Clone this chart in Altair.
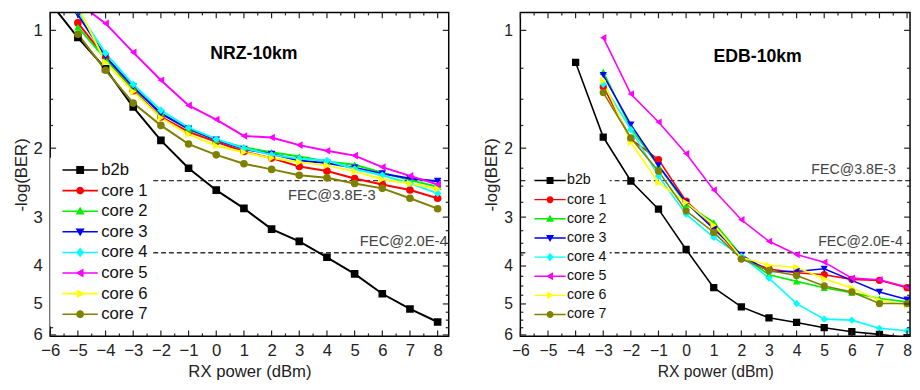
import altair as alt
import pandas as pd

# ---------------- data ----------------
x_values = [-6, -5, -4, -3, -2, -1, 0, 1, 2, 3, 4, 5, 6, 7, 8]
series_names = ["b2b", "core 1", "core 2", "core 3", "core 4", "core 5", "core 6", "core 7"]

# NRZ-10km  (-log(BER) per RX power)
nrz_b2b   = [0.85, 1.043, 1.253, 1.57, 1.91, 2.25, 2.56, 2.85, 3.22, 3.46, 3.80, 4.19, 4.71, 5.15, 5.56]
nrz_core1 = [None, 0.957, 1.176, 1.426, 1.664, 1.818, 1.926, 2.04, 2.12, 2.227, 2.288, 2.391, 2.476, 2.558, 2.685]
nrz_core2 = [None, 0.981, 1.183, 1.407, 1.626, 1.79, 1.905, 1.99, 2.049, 2.101, 2.163, 2.205, 2.309, 2.414, 2.509]
nrz_core3 = [None, 0.912, 1.167, 1.393, 1.632, 1.784, 1.905, 2.01, 2.069, 2.15, 2.184, 2.243, 2.323, 2.391, 2.428]
nrz_core4 = [None, 0.894, 1.145, 1.375, 1.601, 1.773, 1.897, 2.0, 2.08, 2.13, 2.15, 2.26, 2.346, 2.461, 2.608]
nrz_core5 = [None, 0.85, 0.96, 1.138, 1.341, 1.555, 1.69, 1.861, 1.878, 1.964, 2.03, 2.089, 2.235, 2.354, 2.476]
nrz_core6 = [None, 0.87, 1.206, 1.434, 1.673, 1.843, 1.971, 2.049, 2.12, 2.171, 2.213, 2.292, 2.40, 2.461, 2.543]
nrz_core7 = [None, 1.023, 1.265, 1.534, 1.749, 1.952, 2.08, 2.192, 2.266, 2.346, 2.381, 2.461, 2.533, 2.685, 2.855]

# EDB-10km
edb_b2b   = [None, None, 1.208, 1.873, 2.426, 2.863, 3.63, 4.545, 5.087, 5.425, 5.575, 5.751, 5.888, 5.979, 6.1]
edb_core1 = [None, None, None, 1.393, 1.895, 2.138, 2.732, 3.167, 3.835, 4.07, 4.162, 4.21, 4.327, 4.352, 4.545]
edb_core2 = [None, None, None, 1.276, 1.777, 2.223, 2.781, 3.095, 3.761, 4.21, 4.378, 4.545, 4.678, 4.845, 4.94]
edb_core3 = [None, None, None, 1.301, 1.742, 2.214, 2.754, 3.218, 3.746, 4.13, 4.13, 4.066, 4.352, 4.66, 4.873]
edb_core4 = [None, None, None, 1.374, 1.794, 2.357, 2.948, 3.379, 3.776, 4.295, 4.989, 5.467, 5.5, 5.77, 5.853]
edb_core5 = [None, None, None, 1.044, 1.454, 1.715, 2.064, 2.557, 3.047, 3.459, 3.739, 3.91, 4.295, 4.336, 4.526]
edb_core6 = [None, None, None, 1.345, 1.932, 2.45, 2.754, 3.145, 3.798, 3.988, 4.027, 4.311, 4.552, 4.893, 5.037]
edb_core7 = [None, None, None, 1.442, 1.883, 2.289, 2.891, 3.282, 3.835, 4.106, 4.227, 4.499, 4.66, 4.989, 4.989]

nrz_series = [nrz_b2b, nrz_core1, nrz_core2, nrz_core3, nrz_core4, nrz_core5, nrz_core6, nrz_core7]
edb_series = [edb_b2b, edb_core1, edb_core2, edb_core3, edb_core4, edb_core5, edb_core6, edb_core7]

fec_labels = ["FEC@3.8E-3", "FEC@2.0E-4"]
fec_levels = [2.42, 3.70]

x_major_ticks = [-6, -5, -4, -3, -2, -1, 0, 1, 2, 3, 4, 5, 6, 7, 8]
x_minor_ticks = [-5.5, -4.5, -3.5, -2.5, -1.5, -0.5, 0.5, 1.5, 2.5, 3.5, 4.5, 5.5, 6.5, 7.5]
y_major_ticks = [1, 2, 3, 4, 5, 6]
y_minor_ticks = [1.25, 1.5, 1.75, 2.25, 2.5, 2.75, 3.25, 3.5, 3.75, 4.25, 4.5, 4.75, 5.25, 5.5, 5.75]

# ---------------- styles ----------------
series_colors = ["#000000", "#FF0000", "#00EE00", "#0000FF", "#00FFFF", "#FF00FF", "#FFFF00", "#808000"]
marker_shapes = ["square", "circle", "triangle-up", "triangle-down", "diamond",
                 "triangle-left", "triangle-right", "circle"]
marker_paths = [
    "M-1,-1H1V1H-1Z",
    "M1,0A1,1 0 1,1 -1,0A1,1 0 1,1 1,0Z",
    "M0,-1.15L1.15,0.85H-1.15Z",
    "M0,1.15L-1.15,-0.85H1.15Z",
    "M0,-1.25L1,0L0,1.25L-1,0Z",
    "M-1.15,0L0.85,-1.15V1.15Z",
    "M1.15,0L-0.85,1.15V-1.15Z",
    "M1,0A1,1 0 1,1 -1,0A1,1 0 1,1 1,0Z",
]
legend_line = "M-4.5,-0.2H4.5V0.2H-4.5Z "
legend_paths = [legend_line + p for p in marker_paths]

FONT = "Liberation Sans"
Y_DOMAIN = [0.9, 6.05]


def series_frame(series_lists):
    rows = []
    for name, vals in zip(series_names, series_lists):
        for xv, yv in zip(x_values, vals):
            if yv is not None:
                rows.append({"x": xv, "y": yv, "series": name})
    return pd.DataFrame(rows)


def panel(series_lists, x_max, title, title_xy, fec_xy, o):
    df = series_frame(series_lists)
    xs = alt.Scale(domain=[-6, x_max], nice=False, zero=False)
    ys = alt.Scale(type="log", domain=Y_DOMAIN, reverse=True, nice=False)

    x_main = alt.X("x:Q", scale=xs, axis=alt.Axis(
        orient="bottom", values=x_major_ticks, title="RX power (dBm)", labelFontSize=o["xlab"],
        titleFontSize=o["xtitle"], labelPadding=o["xlp"], titlePadding=o["xtp"], labelFlush=False,
        ticks=False, domain=False))
    y_main = alt.Y("y:Q", scale=ys, axis=alt.Axis(
        orient="left", values=y_major_ticks, title="-log(BER)", labelFontSize=o["ylab"],
        titleFontSize=17, labelPadding=o["ylp"], titlePadding=o["ytp"], labelFlush=False,
        ticks=False, domain=False))
    xn = alt.X("x:Q", scale=xs, axis=None)
    yn = alt.Y("y:Q", scale=ys, axis=None)

    cscale = alt.Scale(domain=series_names, range=series_colors)
    base = alt.Chart(df)
    lines = base.mark_line(strokeWidth=o["lw"], clip=True).encode(
        x=x_main, y=y_main, color=alt.Color("series:N", scale=cscale, legend=None))
    pts = base.mark_point(filled=True, size=o["ms"], opacity=1, clip=True).encode(
        x=xn, y=yn,
        color=alt.Color("series:N", scale=cscale, legend=None),
        shape=alt.Shape("series:N", scale=alt.Scale(domain=series_names, range=marker_shapes), legend=None))
    leg = alt.Legend(title=None, orient="none", legendX=o["lx"], legendY=o["ly"],
                     fillColor="white", padding=o["lpad"], labelFont=FONT,
                     labelFontSize=o["lfs"], labelColor="#111", symbolSize=o["ss"],
                     symbolOffset=o["so"], labelOffset=o["lo"], rowPadding=o["rp"],
                     symbolOpacity=1, symbolStrokeWidth=0)
    legend_layer = base.mark_point(filled=True, opacity=0, size=o["ms"], clip=True).encode(
        x=xn, y=yn,
        color=alt.Color("series:N", scale=cscale, legend=leg),
        shape=alt.Shape("series:N", scale=alt.Scale(domain=series_names, range=legend_paths), legend=leg))

    fec_df = pd.DataFrame({"y": fec_levels})
    fec_rules = alt.Chart(fec_df).mark_rule(color="#333", strokeWidth=1.3, strokeDash=[5, 3]).encode(y=yn)
    fec_txt_df = pd.DataFrame({"x": [p[0] for p in fec_xy], "y": [p[1] for p in fec_xy], "t": fec_labels})
    fec_text = alt.Chart(fec_txt_df).mark_text(font=FONT, fontSize=o["fecfs"], color="#444",
                                               align="right", baseline="middle").encode(
        x=xn, y=yn, text="t:N")
    title_df = pd.DataFrame({"x": [title_xy[0]], "y": [title_xy[1]], "t": [title]})
    title_text = alt.Chart(title_df).mark_text(font=FONT, fontSize=18, fontWeight="bold",
                                               color="#000", align="center", baseline="middle").encode(
        x=xn, y=yn, text="t:N")

    # frame and inward ticks (anchored on the scale domain edges)
    frame_df = pd.DataFrame({"x": [-6], "x2": [x_max], "y": [Y_DOMAIN[0]], "y2": [Y_DOMAIN[1]]})
    frame = alt.Chart(frame_df).mark_rect(filled=False, stroke="#000", strokeWidth=1.5).encode(
        x=xn, x2="x2:Q", y=yn, y2="y2:Q")
    tick_layers = []
    for vals, ln in [(x_major_ticks, 6), (x_minor_ticks, 3)]:
        for edge, off in [(Y_DOMAIN[1], -ln), (Y_DOMAIN[0], ln)]:
            tdf = pd.DataFrame({"x": vals, "y": [edge] * len(vals)})
            tick_layers.append(alt.Chart(tdf).mark_rule(color="#222", strokeWidth=1.2, y2Offset=off).encode(
                x=xn, y=yn, y2="y:Q"))
    for vals, ln in [(y_major_ticks, 6), (y_minor_ticks, 3)]:
        for edge, off in [(-6, ln), (x_max, -ln)]:
            tdf = pd.DataFrame({"y": vals, "x": [edge] * len(vals)})
            tick_layers.append(alt.Chart(tdf).mark_rule(color="#222", strokeWidth=1.2, x2Offset=off).encode(
                y=yn, x=xn, x2="x:Q"))

    return alt.layer(fec_rules, fec_text, title_text, lines, pts, legend_layer, frame, *tick_layers).resolve_scale(
        color="independent", shape="independent").resolve_axis(
        x="independent", y="independent").properties(width=o["w"], height=330)


left = panel(nrz_series, 8.4, "NRZ-10km", (1.36, 1.15), [(5.76, 2.64), (8.36, 3.45)],
             dict(xlab=17, xtitle=17, ylab=17, xlp=7, xtp=5, ylp=8, ytp=3,
                  lw=2, ms=60, lx=0, ly=148, lpad=4, lfs=17, ss=64,
                  so=18, lo=13, rp=3, fecfs=15, w=406))
right = panel(edb_series, 8.107, "EDB-10km", (2.59, 1.17), [(7.6, 2.27), (7.85, 3.48)],
              dict(xlab=16, xtitle=16, ylab=16, xlp=7, xtp=5, ylp=8, ytp=3,
                   lw=1.6, ms=55, lx=6, ly=161, lpad=3, lfs=14.5, ss=50,
                   so=14, lo=10, rp=4.5, fecfs=14.5, w=397))

chart = alt.hconcat(left, right, spacing=34).properties(
    padding={"left": 4, "top": 0, "right": 0, "bottom": 0}
).configure_view(strokeWidth=0).configure_axis(
    labelFont=FONT, titleFont=FONT, labelColor="#222", titleColor="#222",
    titleFontWeight="normal", grid=False)

chart.save("out.html", embed_options={"renderer": "svg", "actions": False})
